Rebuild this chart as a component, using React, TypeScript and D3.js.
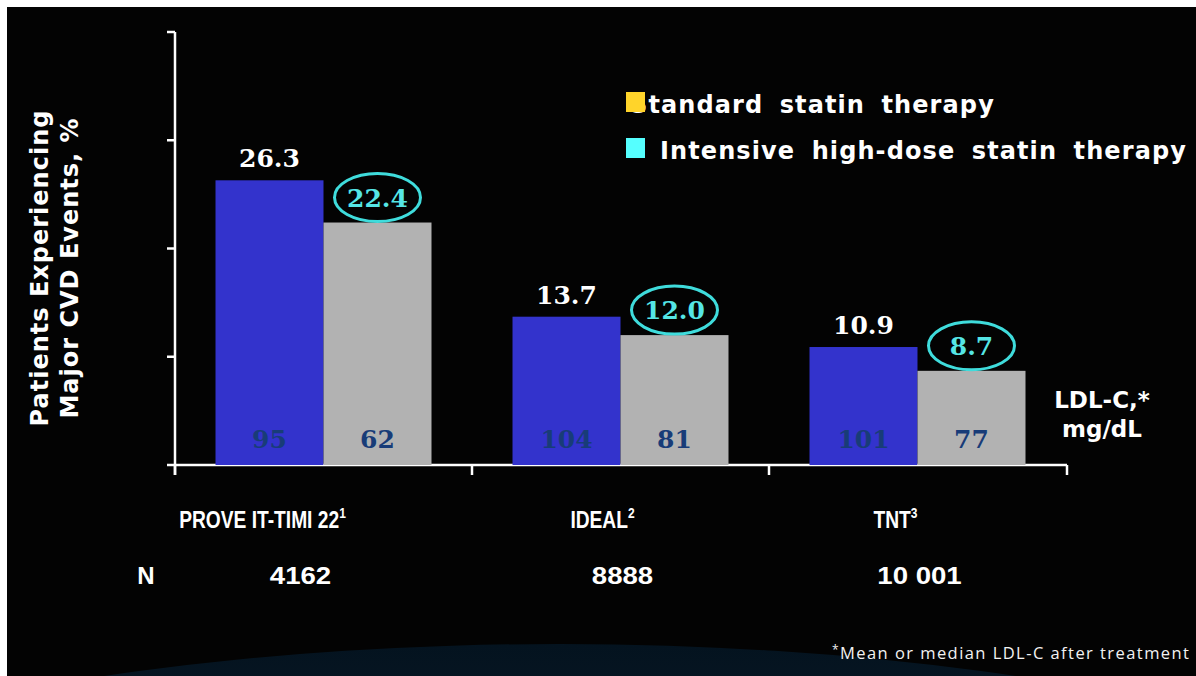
import React from 'react';
import * as d3 from 'd3';

// chart data
const trials = ['PROVE IT-TIMI 22', 'IDEAL', 'TNT'];
const trialRefs = ['1', '2', '3'];
const trialN = ['4162', '8888', '10 001'];
const series = ['standard', 'intensive'];
const seriesNames = ['Standard statin therapy', 'Intensive high-dose statin therapy'];
const eventsStandard = [26.3, 13.7, 10.9];
const eventsIntensive = [22.4, 12.0, 8.7];
const ldlStandard = [95, 104, 101];
const ldlIntensive = [62, 81, 77];
const yTicks = [0, 10, 20, 30, 40];

const W = 1196;
const H = 676;

const App: React.FC = () => {
  const x0 = d3.scaleBand<string>().domain(trials).range([175, 1066]).padding(0);
  const x1 = d3
    .scaleBand<string>()
    .domain(series)
    .range([0, x0.bandwidth()])
    .paddingInner(0)
    .paddingOuter(0.375);
  const y = d3.scaleLinear().domain([0, 40]).range([465, 32]);

  const barColor: Record<string, string> = { standard: '#3333cc', intensive: '#b2b2b2' };
  const legendColor = ['#ffd42a', '#55ffff'];

  // label shifts to follow the slide layout
  const nameShift = [-61, -18, -22];
  const nShift = [-23, 2, 2];

  const serifNum = '"DejaVu Serif", "Liberation Serif", serif';
  const sansBold = '"DejaVu Sans", Verdana, sans-serif';
  const narrow = '"Liberation Sans", Arial, sans-serif';

  const ellipseRy = 24;
  const ellipseRx = 43;

  // condensed text: liberation sans squeezed horizontally
  const Condensed = ({
    x,
    yy,
    sx = 0.8,
    children,
  }: {
    x: number;
    yy: number;
    sx?: number;
    children: React.ReactNode;
  }) => (
    <g transform={`translate(${x},${yy}) scale(${sx},1)`}>
      <text textAnchor="middle" fontFamily={narrow} fontWeight="bold" fontSize={24} fill="#ffffff">
        {children}
      </text>
    </g>
  );

  return (
    <div style={{ position: 'absolute', left: 0, top: 0 }}>
      <svg width={W} height={H} style={{ display: 'block' }}>
        <defs>
          <linearGradient id="floor" x1="0" y1="0" x2="0" y2="1">
            <stop offset="0%" stopColor="#04131f" />
            <stop offset="45%" stopColor="#112233" />
            <stop offset="100%" stopColor="#4a5668" />
          </linearGradient>
        </defs>
        <rect x={0} y={0} width={W} height={H} fill="#ffffff" />
        <rect x={7} y={7} width={W - 7} height={H - 7} fill="#030303" />
        <ellipse cx={560} cy={1000} rx={1100} ry={356} fill="url(#floor)" />

        {/* y axis */}
        <line x1={175} x2={175} y1={y(40)} y2={y(0) + 10} stroke="#fff" strokeWidth={2.5} />
        {yTicks.map((t) => (
          <line key={t} x1={167} x2={175} y1={y(t)} y2={y(t)} stroke="#fff" strokeWidth={2.5} />
        ))}
        {/* x axis */}
        <line x1={175} x2={1067} y1={y(0)} y2={y(0)} stroke="#fff" strokeWidth={2.5} />
        {[...trials.map((t) => x0(t) as number), 1067].map((xx, i) => (
          <line key={i} x1={xx} x2={xx} y1={y(0)} y2={y(0) + 10} stroke="#fff" strokeWidth={2.5} />
        ))}

        {/* bars */}
        {trials.map((t, i) => {
          const gx = x0(t) as number;
          const vals = [eventsStandard[i], eventsIntensive[i]];
          const ldl = [ldlStandard[i], ldlIntensive[i]];
          return (
            <g key={t}>
              {series.map((s, j) => {
                const bx = gx + (x1(s) as number);
                const cx = bx + x1.bandwidth() / 2;
                return (
                  <g key={s}>
                    <rect
                      x={bx}
                      y={y(vals[j])}
                      width={x1.bandwidth()}
                      height={y(0) - y(vals[j])}
                      fill={barColor[s]}
                    />
                    <text
                      x={cx}
                      y={y(0) - 17}
                      textAnchor="middle"
                      fontFamily={serifNum}
                      fontWeight="bold"
                      fontSize={25}
                      fill="#183c78"
                    >
                      {ldl[j]}
                    </text>
                  </g>
                );
              })}
              <text
                x={gx + (x1('standard') as number) + x1.bandwidth() / 2}
                y={y(eventsStandard[i]) - 13}
                textAnchor="middle"
                fontFamily={serifNum}
                fontWeight="bold"
                fontSize={25}
                fill="#ffffff"
              >
                {eventsStandard[i].toFixed(1)}
              </text>
              <ellipse
                cx={gx + (x1('intensive') as number) + x1.bandwidth() / 2}
                cy={y(eventsIntensive[i]) - ellipseRy - 1}
                rx={ellipseRx}
                ry={ellipseRy}
                fill="#030303"
                stroke="#3fdcdc"
                strokeWidth={3}
              />
              <text
                x={gx + (x1('intensive') as number) + x1.bandwidth() / 2}
                y={y(eventsIntensive[i]) - ellipseRy + 8}
                textAnchor="middle"
                fontFamily={serifNum}
                fontWeight="bold"
                fontSize={25}
                fill="#55e6e6"
              >
                {eventsIntensive[i].toFixed(1)}
              </text>
              <Condensed x={gx + x0.bandwidth() / 2 + nameShift[i]} yy={528}>
                {t}
                <tspan fontSize={15} dy={-10}>
                  {trialRefs[i]}
                </tspan>
              </Condensed>
              <Condensed x={gx + x0.bandwidth() / 2 + nShift[i]} yy={584} sx={1.15}>
                {trialN[i]}
              </Condensed>
            </g>
          );
        })}
        <Condensed x={146} yy={584} sx={1}>
          N
        </Condensed>

        {/* y label */}
        <g transform="translate(48,268) rotate(-90)">
          <text textAnchor="middle" fontFamily={sansBold} fontWeight="bold" fontSize={24} letterSpacing={1} fill="#fff">
            Patients Experiencing
          </text>
          <text y={30} textAnchor="middle" fontFamily={sansBold} fontWeight="bold" fontSize={24} letterSpacing={1} fill="#fff">
            Major CVD Events, %
          </text>
        </g>

        {/* legend */}
        {seriesNames.map((name, i) => (
          <g key={name}>
            <text
              x={i === 0 ? 630 : 660}
              y={113 + i * 46}
              fontFamily={sansBold}
              fontWeight="bold"
              fontSize={24}
              letterSpacing={1.1}
              wordSpacing={7}
              fill="#fff"
            >
              {name}
            </text>
            <rect x={626} y={92 + i * 46} width={19} height={20} fill={legendColor[i]} />
          </g>
        ))}

        {/* LDL-C label */}
        <text x={1102} y={408} textAnchor="middle" fontFamily={sansBold} fontWeight="bold" fontSize={23} fill="#fff">
          LDL-C,*
        </text>
        <text x={1102} y={437} textAnchor="middle" fontFamily={sansBold} fontWeight="bold" fontSize={23} fill="#fff">
          mg/dL
        </text>

        {/* footnote */}
        <text
          x={832}
          y={659}
          fontFamily='"Open Sans", "Noto Sans", sans-serif'
          fontSize={16.5}
          textLength={357}
          fill="#f2f2f2"
        >
          <tspan fontSize={12} dy={-5}>*</tspan>
          <tspan dy={5}>Mean or median LDL-C after treatment</tspan>
        </text>
      </svg>
    </div>
  );
};

export default App;
